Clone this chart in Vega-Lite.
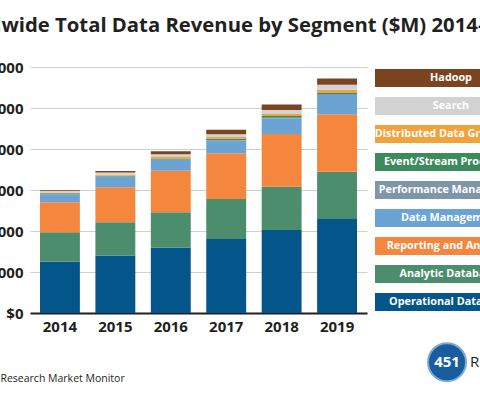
{
  "$schema": "https://vega.github.io/schema/vega-lite/v6.json",
  "background": "white",
  "autosize": {"type": "pad"},
  "padding": {"left": -60, "right": -43, "top": 15, "bottom": 0},
  "bounds": "flush",
  "spacing": 8,
  "title": {
    "text": "Worldwide Total Data Revenue by Segment ($M) 2014-2019",
    "anchor": "start",
    "frame": "group",
    "dx": -89,
    "offset": 24,
    "fontSize": 20.3,
    "fontWeight": "bold",
    "font": "Open Sans",
    "color": "#231f20"
  },
  "config": {
    "view": {"stroke": null},
    "font": "Open Sans"
  },
  "datasets": {
    "segments": [
      {"segment": "Hadoop", "rank": 1},
      {"segment": "Search", "rank": 2},
      {"segment": "Distributed Data Grid/Cache", "rank": 3},
      {"segment": "Event/Stream Processing", "rank": 4},
      {"segment": "Performance Management", "rank": 5},
      {"segment": "Data Management", "rank": 6},
      {"segment": "Reporting and Analytics", "rank": 7},
      {"segment": "Analytic Databases", "rank": 8},
      {"segment": "Operational Databases", "rank": 9}
    ],
    "revenue": [
      {"year": "2014", "segment": "Operational Databases", "revenue": 25000},
      {"year": "2014", "segment": "Analytic Databases", "revenue": 14400},
      {"year": "2014", "segment": "Reporting and Analytics", "revenue": 14600},
      {"year": "2014", "segment": "Data Management", "revenue": 3700},
      {"year": "2014", "segment": "Performance Management", "revenue": 400},
      {"year": "2014", "segment": "Event/Stream Processing", "revenue": 300},
      {"year": "2014", "segment": "Distributed Data Grid/Cache", "revenue": 400},
      {"year": "2014", "segment": "Search", "revenue": 800},
      {"year": "2014", "segment": "Hadoop", "revenue": 450},
      {"year": "2015", "segment": "Operational Databases", "revenue": 28000},
      {"year": "2015", "segment": "Analytic Databases", "revenue": 16300},
      {"year": "2015", "segment": "Reporting and Analytics", "revenue": 17100},
      {"year": "2015", "segment": "Data Management", "revenue": 4900},
      {"year": "2015", "segment": "Performance Management", "revenue": 300},
      {"year": "2015", "segment": "Event/Stream Processing", "revenue": 400},
      {"year": "2015", "segment": "Distributed Data Grid/Cache", "revenue": 500},
      {"year": "2015", "segment": "Search", "revenue": 1000},
      {"year": "2015", "segment": "Hadoop", "revenue": 750},
      {"year": "2016", "segment": "Operational Databases", "revenue": 32000},
      {"year": "2016", "segment": "Analytic Databases", "revenue": 17100},
      {"year": "2016", "segment": "Reporting and Analytics", "revenue": 20300},
      {"year": "2016", "segment": "Data Management", "revenue": 5200},
      {"year": "2016", "segment": "Performance Management", "revenue": 300},
      {"year": "2016", "segment": "Event/Stream Processing", "revenue": 500},
      {"year": "2016", "segment": "Distributed Data Grid/Cache", "revenue": 700},
      {"year": "2016", "segment": "Search", "revenue": 1400},
      {"year": "2016", "segment": "Hadoop", "revenue": 1350},
      {"year": "2017", "segment": "Operational Databases", "revenue": 36100},
      {"year": "2017", "segment": "Analytic Databases", "revenue": 19500},
      {"year": "2017", "segment": "Reporting and Analytics", "revenue": 22300},
      {"year": "2017", "segment": "Data Management", "revenue": 6150},
      {"year": "2017", "segment": "Performance Management", "revenue": 350},
      {"year": "2017", "segment": "Event/Stream Processing", "revenue": 650},
      {"year": "2017", "segment": "Distributed Data Grid/Cache", "revenue": 800},
      {"year": "2017", "segment": "Search", "revenue": 1400},
      {"year": "2017", "segment": "Hadoop", "revenue": 2100},
      {"year": "2018", "segment": "Operational Databases", "revenue": 40500},
      {"year": "2018", "segment": "Analytic Databases", "revenue": 21100},
      {"year": "2018", "segment": "Reporting and Analytics", "revenue": 25700},
      {"year": "2018", "segment": "Data Management", "revenue": 7650},
      {"year": "2018", "segment": "Performance Management", "revenue": 350},
      {"year": "2018", "segment": "Event/Stream Processing", "revenue": 750},
      {"year": "2018", "segment": "Distributed Data Grid/Cache", "revenue": 1000},
      {"year": "2018", "segment": "Search", "revenue": 1950},
      {"year": "2018", "segment": "Hadoop", "revenue": 2700},
      {"year": "2019", "segment": "Operational Databases", "revenue": 45800},
      {"year": "2019", "segment": "Analytic Databases", "revenue": 23100},
      {"year": "2019", "segment": "Reporting and Analytics", "revenue": 28100},
      {"year": "2019", "segment": "Data Management", "revenue": 9300},
      {"year": "2019", "segment": "Performance Management", "revenue": 500},
      {"year": "2019", "segment": "Event/Stream Processing", "revenue": 800},
      {"year": "2019", "segment": "Distributed Data Grid/Cache", "revenue": 1300},
      {"year": "2019", "segment": "Search", "revenue": 2400},
      {"year": "2019", "segment": "Hadoop", "revenue": 3100}
    ]
  },
  "hconcat": [
    {
      "width": 337,
      "height": 246,
      "data": {"name": "revenue"},
      "transform": [
        {"lookup": "segment", "from": {"data": {"name": "segments"}, "key": "segment", "fields": ["rank"]}}
      ],
      "mark": {"type": "bar"},
      "encoding": {
        "x": {
          "field": "year",
          "type": "ordinal",
          "scale": {"paddingInner": 0.28, "paddingOuter": 0.18},
          "axis": {
            "title": "Source: 451 Research Market Monitor",
            "titleX": -90,
            "titleY": 68,
            "titleAlign": "left",
            "titleAnchor": "start",
            "titleBaseline": "alphabetic",
            "titleFontSize": 10.5,
            "titleFontWeight": "normal",
            "titleColor": "#231f20",
            "labelAngle": 0,
            "labelFontSize": 15,
            "labelFontWeight": "bold",
            "labelColor": "#231f20",
            "labelPadding": 6,
            "ticks": false,
            "tickSize": 0,
            "domainColor": "#231f20",
            "domainWidth": 2
          }
        },
        "y": {
          "field": "revenue",
          "type": "quantitative",
          "stack": "zero",
          "scale": {"domain": [0, 120000], "nice": false},
          "axis": {
            "title": null,
            "values": [0, 20000, 40000, 60000, 80000, 100000, 120000],
            "format": "$,d",
            "domain": false,
            "ticks": false,
            "tickSize": 0,
            "labelPadding": 7,
            "labelFontSize": 15,
            "labelFontWeight": "bold",
            "labelColor": "#231f20",
            "gridColor": "#cfcfcf",
            "gridWidth": 1
          }
        },
        "order": {"field": "rank", "type": "quantitative", "sort": "descending"},
        "color": {
          "field": "segment",
          "type": "nominal",
          "scale": {
            "domain": ["Hadoop", "Search", "Distributed Data Grid/Cache", "Event/Stream Processing", "Performance Management", "Data Management", "Reporting and Analytics", "Analytic Databases", "Operational Databases"],
            "range": ["#7b4421", "#d2d2d2", "#f0a23d", "#3d8b5d", "#8195aa", "#6ba4d4", "#f5863e", "#4b8d6c", "#04568a"]
          },
          "legend": null
        }
      }
    },
    {
      "width": 105,
      "height": 246,
      "layer": [
        {
          "data": {"name": "segments"},
          "encoding": {
            "y": {
              "field": "segment",
              "type": "nominal",
              "sort": {"field": "rank", "order": "ascending"},
              "scale": {"paddingInner": 0.357, "paddingOuter": 0.071},
              "axis": null
            }
          },
          "layer": [
            {
              "mark": {"type": "bar", "clip": true},
              "encoding": {
                "x": {"datum": 0, "type": "quantitative", "scale": {"domain": [0, 105], "nice": false, "zero": false}, "axis": null},
                "x2": {"datum": 150},
                "color": {
                  "field": "segment",
                  "type": "nominal",
                  "scale": {
                    "domain": ["Hadoop", "Search", "Distributed Data Grid/Cache", "Event/Stream Processing", "Performance Management", "Data Management", "Reporting and Analytics", "Analytic Databases", "Operational Databases"],
                    "range": ["#7b4421", "#d2d2d2", "#f0a23d", "#3d8b5d", "#8195aa", "#6ba4d4", "#f5863e", "#4b8d6c", "#04568a"]
                  },
                  "legend": null
                }
              }
            },
            {
              "mark": {"type": "text", "clip": true, "color": "white", "fontWeight": "bold", "fontSize": 10.8, "align": "center", "baseline": "middle"},
              "encoding": {
                "x": {"datum": 76, "type": "quantitative", "scale": {"domain": [0, 105], "nice": false, "zero": false}, "axis": null},
                "text": {"field": "segment", "type": "nominal"}
              }
            }
          ]
        },
        {
          "data": {"values": [{}]},
          "encoding": {
            "x": {"datum": 72, "type": "quantitative", "scale": {"domain": [0, 105], "nice": false, "zero": false}, "axis": null},
            "y": {"datum": -0.2, "type": "quantitative", "scale": {"domain": [0, 1], "nice": false, "zero": false}, "axis": null}
          },
          "layer": [
            {
              "mark": {"type": "point", "shape": "circle", "filled": true, "size": 1444, "color": "#1a5d9f", "stroke": "#7fa9d4", "strokeWidth": 2, "opacity": 1}
            },
            {
              "mark": {"type": "text", "text": "451", "color": "white", "fontWeight": "bold", "fontSize": 15, "align": "center", "baseline": "middle"}
            },
            {
              "mark": {"type": "text", "text": "Research", "color": "#231f20", "fontSize": 15, "align": "left", "baseline": "middle", "dx": 23, "limit": 12, "ellipsis": "\u200b"}
            }
          ]
        }
      ],
      "resolve": {"scale": {"y": "independent"}}
    }
  ]
}
